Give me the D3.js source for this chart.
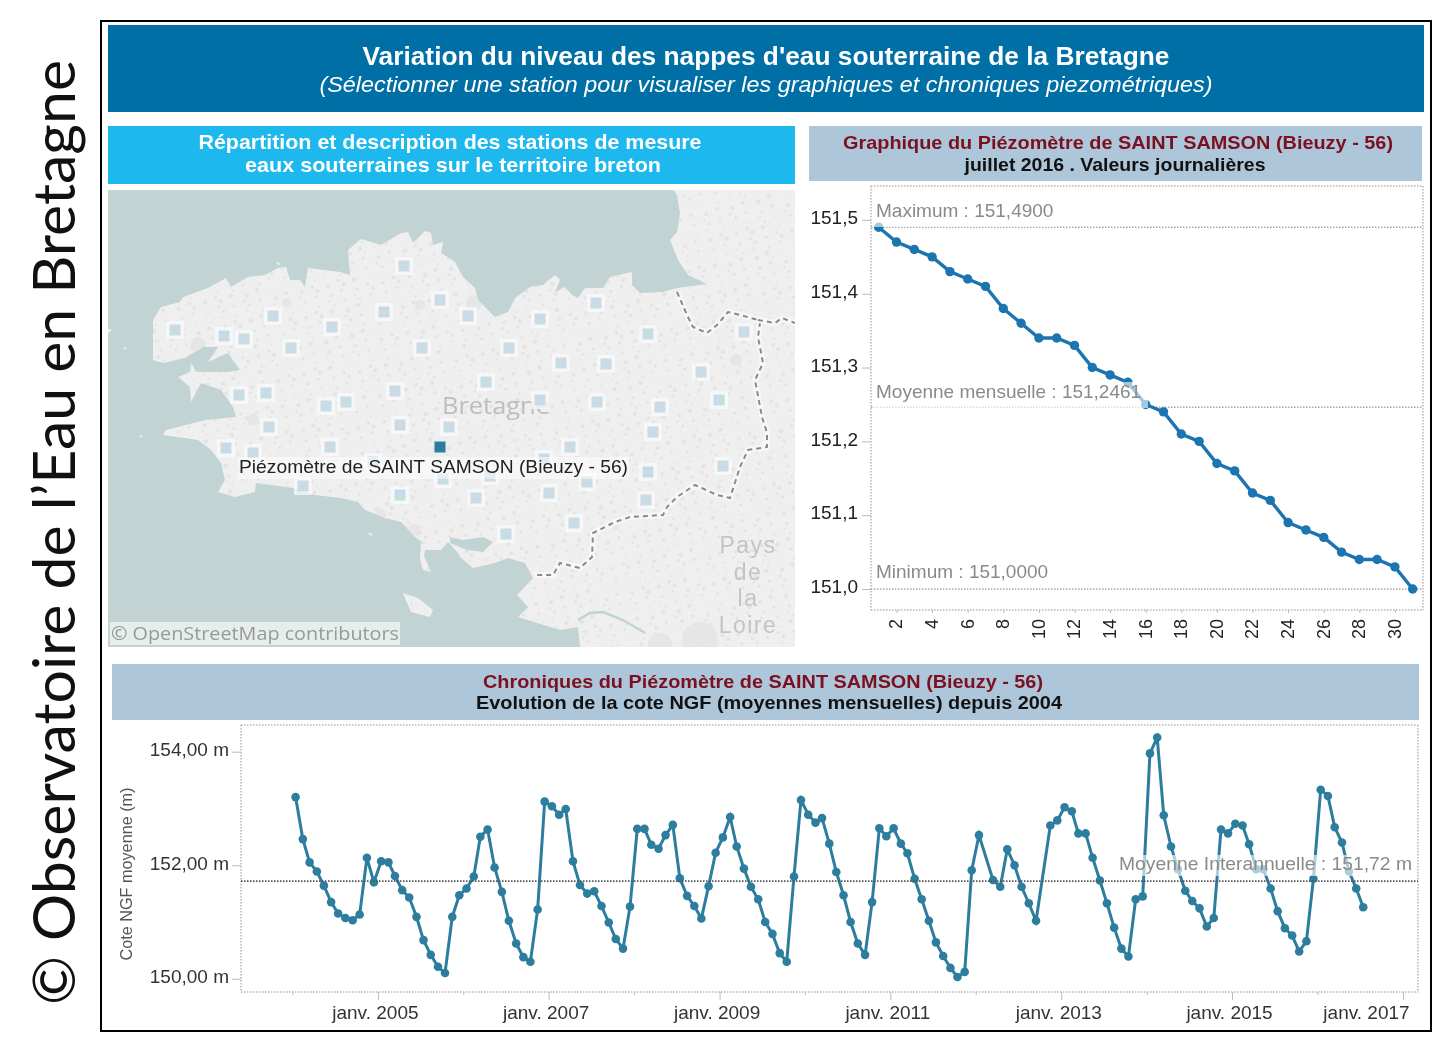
<!DOCTYPE html>
<html><head><meta charset="utf-8">
<script src="https://cdn.jsdelivr.net/npm/d3@7"></script>
<style>html,body{margin:0;padding:0;background:#fff}svg{display:block;filter:blur(.55px)}text{font-family:"Liberation Sans",Arial,sans-serif}</style>
</head><body><svg id="c" width="1448" height="1050"></svg>
<script>
// ---------- data ----------
const dailyDays = d3.range(1, 32);
const dailyValues = [151.49,151.47,151.46,151.45,151.43,151.42,151.41,151.38,151.36,151.34,151.34,151.33,151.30,151.29,151.28,151.25,151.24,151.21,151.20,151.17,151.16,151.13,151.12,151.09,151.08,151.07,151.05,151.04,151.04,151.03,151.00];
const dailyTicks = [151.0,151.1,151.2,151.3,151.4,151.5];
const dailyRefs = [{v:151.49,t:"Maximum : 151,4900"},{v:151.2461,t:"Moyenne mensuelle : 151,2461"},{v:151.0,t:"Minimum : 151,0000"}];
const monthlyStart = new Date(2004,0,15);
const monthlyValues = [153.20,152.46,152.05,151.89,151.64,151.35,151.15,151.07,151.03,151.13,152.13,151.70,
152.07,152.05,151.81,151.56,151.43,151.09,150.68,150.42,150.21,150.10,151.09,151.47,
151.59,151.80,152.50,152.63,151.96,151.53,151.02,150.62,150.38,150.30,151.22,153.12,
153.04,152.89,152.99,152.07,151.65,151.50,151.54,151.28,150.99,150.70,150.53,151.27,
152.64,152.64,152.36,152.29,152.53,152.71,151.77,151.46,151.28,151.06,151.63,152.22,
152.49,152.85,152.33,151.94,151.62,151.40,151.00,150.79,150.45,150.30,151.80,153.15,
152.89,152.75,152.83,152.38,151.88,151.47,151.00,150.62,150.42,151.35,152.65,152.51,
152.65,152.38,152.21,151.76,151.40,151.02,150.64,150.40,150.19,150.03,150.12,151.91,
152.53,null,151.74,151.62,152.28,152.00,151.62,151.33,151.02,null,152.70,152.79,
153.02,152.95,152.56,152.56,152.13,151.73,151.33,150.90,150.53,150.39,151.40,151.45,
153.97,154.25,152.88,152.33,151.93,151.55,151.37,151.24,150.92,151.07,152.63,152.56,
152.73,152.70,152.37,151.93,151.93,151.59,151.19,150.89,150.76,150.48,150.66,151.76,
153.33,153.22,152.67,152.40,151.89,151.59,151.26];
const monthlyTicks = [150,152,154];
const monthlyMean = 151.72;
const yearTicks = d3.range(2004,2018);
const stations = [[404,266],[440,300],[273,316],[332,327],[384,312],[175,330],[224,336],[244,339],[291,348],[422,348],[239,395],[266,393],[395,391],[326,406],[346,402],[596,303],[468,316],[540,319],[509,348],[648,334],[744,332],[561,363],[606,364],[486,382],[701,372],[540,400],[597,402],[660,407],[719,400],[269,427],[400,425],[449,427],[226,448],[253,453],[330,447],[373,462],[443,479],[303,486],[400,495],[653,432],[570,447],[544,459],[490,476],[648,472],[723,466],[587,482],[549,493],[476,498],[646,500],[574,523],[506,534]];
const selectedStation = [440,447];
const landMain = [[153,320],[161,307],[180,302],[183,297],[208,288],[226,278],[231,287],[248,277],[265,275],[278,268],[286,267],[290,280],[300,280],[305,287],[308,268],[325,270],[340,272],[350,275],[348,250],[361,239],[371,242],[381,245],[401,233],[408,232],[413,243],[425,231],[431,233],[433,245],[443,242],[441,253],[455,262],[463,277],[475,288],[478,300],[495,317],[508,312],[515,298],[530,287],[543,285],[555,275],[560,280],[555,292],[565,287],[572,295],[578,298],[585,288],[603,288],[610,277],[632,272],[632,285],[640,293],[663,292],[677,288],[707,284],[688,275],[678,260],[670,240],[677,232],[680,213],[677,195],[673,190],[795,190],[795,647],[580,647],[578,627],[560,630],[537,623],[518,617],[528,607],[517,595],[533,578],[525,563],[508,558],[495,563],[473,568],[460,557],[458,553],[448,542],[441,550],[425,550],[423,543],[415,537],[401,522],[385,518],[365,510],[358,502],[341,498],[315,495],[293,488],[256,483],[255,492],[235,497],[218,492],[225,480],[221,463],[211,450],[198,440],[163,435],[166,430],[205,420],[236,417],[233,407],[221,390],[201,383],[191,402],[190,387],[178,377],[190,372],[191,362],[196,372],[228,372],[240,370],[228,353],[208,362],[218,347],[203,347],[185,358],[163,363],[153,360]];
const islands = [[[421,543],[426,545],[424,556],[431,572],[423,570],[420,560]],[[403,593],[418,598],[433,610],[430,617],[411,612]],[[107,328],[112,330],[108,333]],[[123,347],[127,348],[125,350]],[[139,435],[143,436],[141,438]],[[367,532],[373,534],[371,536]],[[276,262],[280,263],[279,266]]];
const gulf = [[450,537],[463,540],[483,537],[493,542],[483,552],[467,550],[450,543]];
const loireChannel = [[578,620],[590,613],[603,612],[623,620],[645,633]];
const borderMain = [[677,292],[687,315],[693,327],[707,333],[717,325],[728,312],[740,315],[758,320],[760,323],[758,337],[763,363],[755,380],[762,417],[767,433],[767,447],[748,450],[740,467],[730,498],[717,495],[695,485],[677,497],[667,507],[663,515],[630,517],[615,522],[593,533],[592,557],[580,568],[560,563],[553,575],[533,575]];
const borderEast = [[758,320],[775,323],[782,318],[795,323]];
const urban = [[198,345,8],[474,303,8],[253,420,6],[415,530,6],[380,515,6],[700,640,18],[660,645,12],[287,303,5],[420,305,5],[736,360,6]];

// ---------- helpers ----------
const svg = d3.select("#c");
function txt(g,o){const t=g.append("text").attr("x",o.x).attr("y",o.y).attr("text-anchor",o.a||"middle")
  .attr("font-size",o.s).attr("fill",o.c||"#000").text(o.t);
  if(o.b)t.attr("font-weight","bold"); if(o.i)t.attr("font-style","italic");
  if(o.f)t.style("font-family",o.f); if(o.l)t.attr("textLength",o.l).attr("lengthAdjust","spacingAndGlyphs");
  if(o.ls)t.attr("letter-spacing",o.ls);
  if(o.r)t.attr("transform",`rotate(${o.r} ${o.x} ${o.y})`); return t;}
function rect(g,x,y,w,h,f,op){return g.append("rect").attr("x",x).attr("y",y).attr("width",w).attr("height",h).attr("fill",f).attr("opacity",op==null?1:op);}
const dots=(g,x1,y1,x2,y2,c,w)=>g.append("line").attr("x1",x1).attr("y1",y1).attr("x2",x2).attr("y2",y2).attr("stroke",c).attr("stroke-width",w||1.5).attr("stroke-dasharray","1.5 1.5");

// ---------- frame, left caption ----------
svg.append("rect").attr("x",101).attr("y",21).attr("width",1330).attr("height",1010).attr("fill","#fff").attr("stroke","#000").attr("stroke-width",2);
txt(svg,{x:75,y:1005,a:"start",s:58,c:"#111",t:"© Observatoire de l’Eau en Bretagne",f:"Lato",l:945,r:-90});

// ---------- headers ----------
rect(svg,108,25,1316,87,"#006fa5");
txt(svg,{x:766,y:65,s:25,b:1,c:"#fff",t:"Variation du niveau des nappes d'eau souterraine de la Bretagne",l:807});
txt(svg,{x:766,y:92,s:22,i:1,c:"#fff",t:"(Sélectionner une station pour visualiser les graphiques et chroniques piezométriques)",l:893});
rect(svg,108,126,687,58,"#1db8ee");
txt(svg,{x:450,y:149,s:21,b:1,c:"#fff",t:"Répartition et description des stations de mesure",l:503});
txt(svg,{x:453,y:172,s:21,b:1,c:"#fff",t:"eaux souterraines sur le territoire breton",l:416});
rect(svg,809,126,613,55,"#aec6d9");
txt(svg,{x:1118,y:149,s:19,b:1,c:"#7b1020",t:"Graphique du Piézomètre de SAINT SAMSON (Bieuzy - 56)",l:550});
txt(svg,{x:1115,y:171,s:19,b:1,c:"#111",t:"juillet 2016 . Valeurs journalières",l:301});
rect(svg,112,664,1307,56,"#aec6d9");
txt(svg,{x:763,y:688,s:19,b:1,c:"#7b1020",t:"Chroniques du Piézomètre de SAINT SAMSON (Bieuzy - 56)",l:560});
txt(svg,{x:769,y:709,s:19,b:1,c:"#111",t:"Evolution de la cote NGF (moyennes mensuelles) depuis 2004",l:586});

// ---------- map ----------
const mx=d3.scaleLinear().domain([108,795]).range([108,795]), my=d3.scaleLinear().domain([190,647]).range([190,647]);
const geo=d3.line().x(d=>mx(d[0])).y(d=>my(d[1]));
const map=svg.append("g");
const defs=svg.append("defs");
defs.append("clipPath").attr("id","mapclip").append("rect").attr("x",mx(108)).attr("y",my(190)).attr("width",687).attr("height",457);
const landD=[landMain,...islands].map(p=>geo(p)+"Z").join(" ");
defs.append("clipPath").attr("id","landclip").append("path").attr("d",landD);
map.attr("clip-path","url(#mapclip)");
rect(map,108,190,687,457,"#c1d3d3");
map.append("path").attr("d",landD).attr("fill","#efefef");
const speck=map.append("g").attr("clip-path","url(#landclip)");
const frac=v=>v-Math.floor(v);
speck.selectAll("circle.u").data(urban).join("circle").attr("class","u").attr("cx",d=>mx(d[0])).attr("cy",d=>my(d[1])).attr("r",d=>d[2]).attr("fill","#e6e6e6");
speck.selectAll("circle.s").data(d3.range(1,3200)).join("circle").attr("class","s")
 .attr("cx",i=>108+687*frac(i*0.7548776662)).attr("cy",i=>190+457*frac(i*0.5698402910))
 .attr("r",i=>0.8+1.5*frac(i*0.6180339887)).attr("fill","#e4e4e4");
map.append("path").attr("d",geo(gulf)+"Z").attr("fill","#c1d3d3");
map.append("path").attr("d",geo(loireChannel)).attr("fill","none").attr("stroke","#c1d3d3").attr("stroke-width",2.5);
[borderMain,borderEast].forEach(b=>{
 map.append("path").attr("d",geo(b)).attr("fill","none").attr("stroke","#f7f7f7").attr("stroke-width",6);
 map.append("path").attr("d",geo(b)).attr("fill","none").attr("stroke","#8a8a8a").attr("stroke-width",2).attr("stroke-dasharray","5 4");
});
txt(map,{x:496,y:414,s:24,c:"#bdbdbd",t:"Bretagne",f:"'Open Sans'",l:108});
["Pays","de","la","Loire"].forEach((w,i)=>txt(map,{x:748,y:553+i*26.7,s:23,c:"#c4c4c4",t:w,ls:1.5}));
map.selectAll("rect.h").data(stations).join("rect").attr("class","h").attr("x",d=>mx(d[0])-9).attr("y",d=>my(d[1])-9).attr("width",18).attr("height",18).attr("fill","#fafafa").attr("opacity",.75);
map.selectAll("rect.st").data(stations).join("rect").attr("class","st").attr("x",d=>mx(d[0])-5.5).attr("y",d=>my(d[1])-5.5).attr("width",11).attr("height",11).attr("fill","#c9dbe4");
rect(map,mx(selectedStation[0])-5.5,my(selectedStation[1])-5.5,11,11,"#2a7d9c");
rect(map,238,457,391,22,"#fff",.5);
txt(map,{x:239,y:473,a:"start",s:19,c:"#222",t:"Piézomètre de SAINT SAMSON (Bieuzy - 56)",l:389});
rect(map,110,622,290,23,"#fff",.6);
txt(map,{x:111,y:640,a:"start",s:19,c:"#999",t:"© OpenStreetMap contributors",f:"'Open Sans'",l:288});

// ---------- daily chart ----------
const dx=d3.scaleLinear().domain([1,31]).range([878.7,1412.7]);
const dy=d3.scaleLinear().domain([151,151.49]).range([589,227.3]);
const dg=svg.append("g");
[[871,186,1423,186],[871,610,1423,610],[871,186,871,610],[1423,186,1423,610]].forEach(l=>dots(dg,...l,"#b5b5b5"));
dailyRefs.forEach(r=>dots(dg,871,dy(r.v),1423,dy(r.v),"#a8a8a8"));
const dLine=d3.line().x((d,i)=>dx(dailyDays[i])).y(d=>dy(d));
dg.append("path").attr("d",dLine(dailyValues)).attr("fill","none").attr("stroke","#1b75b1").attr("stroke-width",3.4);
dg.selectAll("circle").data(dailyValues).join("circle").attr("cx",(d,i)=>dx(dailyDays[i])).attr("cy",d=>dy(d)).attr("r",4.7).attr("fill","#1b75b1");
rect(dg,874,201,182,26,"#fff",.6);
rect(dg,874,382,274,26,"#fff",.6);
rect(dg,874,562,178,22,"#fff",.6);
dailyRefs.forEach(r=>txt(dg,{x:876,y:dy(r.v)-(r.v===151?11:(r.v===151.49?10:9)),a:"start",s:19,c:"#8a8a8a",t:r.t}));
const dAxisY=dg.append("g").attr("transform","translate(871,0)").call(d3.axisLeft(dy).tickValues(dailyTicks).tickSize(9).tickPadding(4).tickFormat(d=>d3.format(".1f")(d).replace(".",",")));
dAxisY.select(".domain").remove();
dAxisY.selectAll("line").attr("stroke","#bbb");
dAxisY.selectAll("text").attr("font-size",19).attr("fill","#222").attr("dy","0.2em").style("font-family","'Liberation Sans'");
const dAxisX=dg.append("g").attr("transform","translate(0,610)").call(d3.axisBottom(dx).tickValues(dailyDays.filter(d=>d%2===0)).tickSize(3).tickFormat(d=>d));
dAxisX.select(".domain").remove();
dAxisX.selectAll("line").attr("stroke","#bbb");
dAxisX.selectAll("text").attr("font-size",18).attr("fill","#222").attr("text-anchor","end").attr("transform","rotate(-90)").attr("x",-9).attr("y",-1).attr("dy","0.36em").style("font-family","'Liberation Sans'");

// ---------- monthly chart ----------
const mX=d3.scaleTime().domain([new Date(2004,0,1),new Date(2017,0,1)]).range([292.3,1403]);
const mY=d3.scaleLinear().domain([150,154]).range([978.7,751.7]);
const mg=svg.append("g");
const monthly=monthlyValues.map((v,i)=>({d:new Date(monthlyStart.getFullYear(),monthlyStart.getMonth()+i,15),v})).filter(d=>d.v!==null);
[[241,725,1418,725],[241,992,1418,992],[241,725,241,992],[1418,725,1418,992]].forEach(l=>dots(mg,...l,"#b5b5b5"));
const mLine=d3.line().x(d=>mX(d.d)).y(d=>mY(d.v));
mg.append("path").attr("d",mLine(monthly)).attr("fill","none").attr("stroke","#2c7d9e").attr("stroke-width",3);
mg.selectAll("circle").data(monthly).join("circle").attr("cx",d=>mX(d.d)).attr("cy",d=>mY(d.v)).attr("r",4.3).attr("fill","#2c7d9e");
rect(mg,1118,855,296,21,"#fff",.62);
dots(mg,241,mY(monthlyMean),1418,mY(monthlyMean),"#555",1.6);
txt(mg,{x:1119,y:870,a:"start",s:19,c:"#8a8a8a",t:"Moyenne Interannuelle : 151,72 m",l:293});
const mAxisY=mg.append("g").attr("transform","translate(241,0)").call(d3.axisLeft(mY).tickValues(monthlyTicks).tickSize(9).tickPadding(3).tickFormat(d=>d3.format(".2f")(d).replace(".",",")+" m"));
mAxisY.select(".domain").remove();
mAxisY.selectAll("line").attr("stroke","#bbb");
mAxisY.selectAll("text").attr("font-size",19).attr("fill","#333").attr("dy","0.2em").style("font-family","'Liberation Sans'");
const mAxisX=mg.append("g").attr("transform","translate(0,992)").call(d3.axisBottom(mX).tickValues(yearTicks.map(y=>new Date(y,0,1))).tickSize(8).tickPadding(5).tickFormat(d=>d.getFullYear()%2? "janv. "+d.getFullYear():""));
mAxisX.select(".domain").remove();
mAxisX.selectAll("line").attr("stroke","#bbb").attr("y2",d=>d.getFullYear()%2?8:3);
mAxisX.selectAll("text").attr("font-size",19).attr("fill","#333").style("font-family","'Liberation Sans'")
  .attr("dx",d=>d.getFullYear()===2017?"-37":"-3").attr("y",14);
txt(mg,{x:132,y:874,s:17,c:"#555",t:"Cote NGF moyenne (m)",r:-90,l:173});
</script></body></html>
